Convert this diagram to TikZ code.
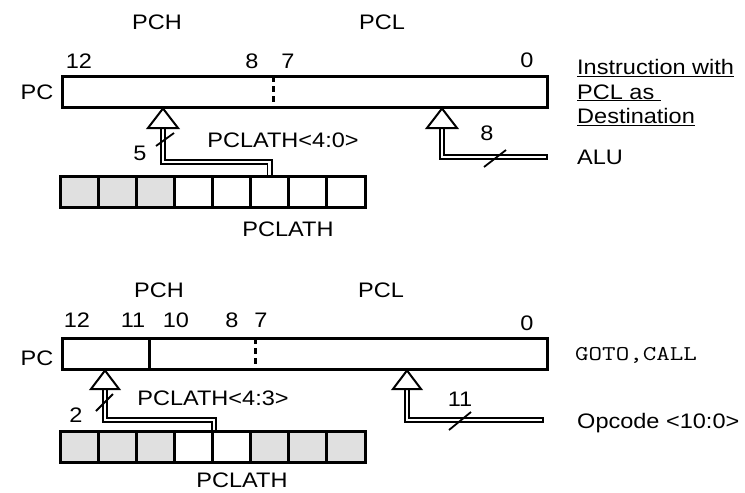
\documentclass[tikz,border=0pt]{standalone}
\usepackage{fontspec}
\setmainfont{Liberation Sans}[FakeStretch=1.12]
\newfontfamily\codefont{Latin Modern Mono}[FakeStretch=1.25]
\usetikzlibrary{calc}
\tikzset{
  lbl/.style={inner sep=0pt, font=\fontsize{21}{25}\selectfont},
  regbox/.style={draw, line width=3pt, inner sep=0pt, minimum height=31pt},
  cellbox/.style={draw, line width=3pt, inner sep=0pt, minimum width=38.125pt, minimum height=31pt},
  graycell/.style={cellbox, fill=black!12},
  whitecell/.style={cellbox, fill=white},
  solidsep/.style={line width=3pt},
  dashsep/.style={line width=3pt, dash pattern=on 6pt off 4pt},
  bus/.style={draw, line width=1.8pt, double=white, double distance=2.4pt},
  tip/.style={draw, line width=2pt, fill=white, line join=miter},
  slashmark/.style={line width=1.8pt},
}
\begin{document}
\begin{tikzpicture}[x=1pt,y=-1pt]
\useasboundingbox (0,0) rectangle (745,493);

% ---------------- upper figure: PCL as destination ----------------
\node[lbl] (pch1) at (157,22) {PCH};
\node[lbl] (pcl1) at (382,22) {PCL};
\node[lbl] (b12a) at (79,61) {12};
\node[lbl] (b8a) at (252,61) {8};
\node[lbl] (b7a) at (288,61) {7};
\node[lbl] (b0a) at (527,60) {0};
\node[lbl] (pclab1) at (37,92) {PC};

\node[regbox, minimum width=485pt] (pc1) at (304.5,91.5) {};
\draw[dashsep] (273,76) -- (273,107);

% PCLATH register
\foreach \i in {0,...,7} {
  \ifnum\i<3 \def\sty{graycell}\else\def\sty{whitecell}\fi
  \node[\sty] (ua\i) at ({60+38.125*(\i+0.5)},191.5) {};
}
\node[lbl] (plath1) at (288,229) {PCLATH};

% bus PCLATH<4:0> -> PCH
\coordinate (tipA) at (163,108.5);
\path[bus] (ua5.north) |- (163,162) -- (163,128);
\draw[tip] (148,128) -- (tipA) -- (178,128) -- cycle;
\draw[slashmark] (156,146) -- (174,133);
\node[lbl] (n5) at (140,153) {5};
\node[lbl] (pl40) at (283,140) {PCLATH<4:0>};

% bus ALU -> PCL
\coordinate (alu) at (547,157);
\coordinate (tipB) at (442,108.5);
\path[bus] (alu) -| (442,128);
\draw[line width=1.4pt] ($(alu)+(0,-3)$) -- ($(alu)+(0,3)$);
\draw[tip] (427,128) -- (tipB) -- (457,128) -- cycle;
\draw[slashmark] (484,167) -- (506,150);
\node[lbl] (n8) at (487,133) {8};
\node[lbl, anchor=west] (alulab) at (577,157) {ALU};
\node[lbl, anchor=west, align=left, font=\fontsize{21}{24.5}\selectfont] (instr) at (577,92.5)
  {\underline{Instruction with}\\\underline{PCL as\ }\\\underline{Destination}};

% ---------------- lower figure: GOTO, CALL ----------------
\node[lbl] (pch2) at (159,290) {PCH};
\node[lbl] (pcl2) at (381,290) {PCL};
\node[lbl] (b12b) at (77,320) {12};
\node[lbl] (b11b) at (133,320) {11};
\node[lbl] (b10b) at (176,320) {10};
\node[lbl] (b8b) at (232,320) {8};
\node[lbl] (b7b) at (261,320) {7};
\node[lbl] (b0b) at (527,323) {0};
\node[lbl] (pclab2) at (37,358) {PC};

\node[regbox, minimum width=485pt] (pc2) at (304.5,353.5) {};
\draw[solidsep] (149,338) -- (149,369);
\draw[dashsep] (255,338) -- (255,369);

\foreach \i in {0,...,7} {
  \ifnum\i=3 \def\sty{whitecell}\else\ifnum\i=4 \def\sty{whitecell}\else\def\sty{graycell}\fi\fi
  \node[\sty] (lb\i) at ({60+38.125*(\i+0.5)},447) {};
}
\node[lbl] (plath2) at (242,480) {PCLATH};

% bus PCLATH<4:3> -> PC<12:11>
\coordinate (tipC) at (105,370.5);
\path[bus] (lb3.north east) |- (105,420) -- (105,389);
\draw[tip] (91,389) -- (tipC) -- (119,389) -- cycle;
\draw[slashmark] (96,411) -- (113,394);
\node[lbl] (n2) at (76,415) {2};
\node[lbl] (pl43) at (213,398) {PCLATH<4:3>};

% bus opcode -> PC<10:0>
\coordinate (opc) at (543,420);
\coordinate (tipD) at (407,370.5);
\path[bus] (opc) -| (407,389);
\draw[line width=1.4pt] ($(opc)+(0,-3)$) -- ($(opc)+(0,3)$);
\draw[tip] (393,389) -- (tipD) -- (421,389) -- cycle;
\draw[slashmark] (449,430) -- (471,412);
\node[lbl] (n11) at (460,399) {11};
\node[inner sep=0pt, anchor=west, font=\codefont\fontsize{21}{25}\selectfont] (gotocall) at (575,355) {GOTO,CALL};
\node[lbl, anchor=west] (opclab) at (577,423) {Opcode <10:0>};
\end{tikzpicture}
\end{document}
